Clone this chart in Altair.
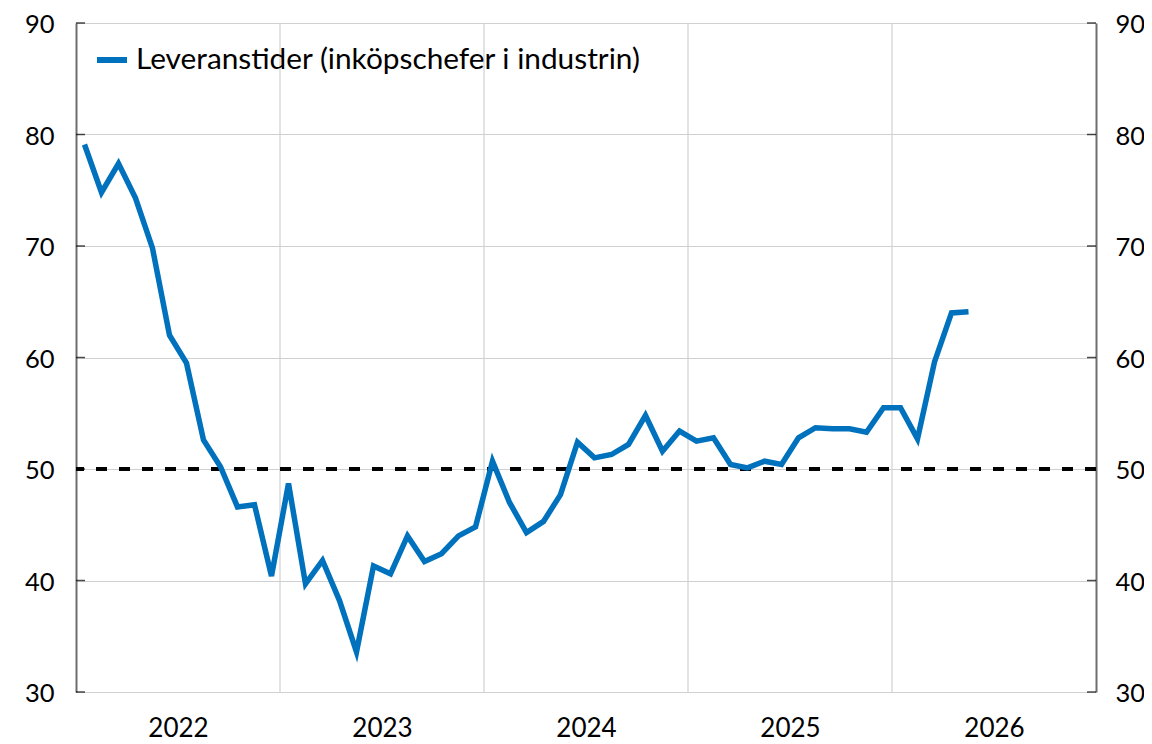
import altair as alt
import pandas as pd

series_name = "Leveranstider (inköpschefer i industrin)"
start_year = 2022
values = [79.1, 74.8, 77.4, 74.3, 69.8, 62.0, 59.5, 52.6, 50.2, 46.6, 46.8, 40.4,
          48.7, 39.7, 41.8, 38.2, 33.6, 41.3, 40.6, 44.0, 41.7, 42.4, 44.0, 44.8,
          50.7, 47.0, 44.3, 45.3, 47.7, 52.4, 51.0, 51.3, 52.2, 54.8, 51.6, 53.4,
          52.5, 52.8, 50.4, 50.1, 50.7, 50.4, 52.8, 53.7, 53.6, 53.6, 53.3, 55.5,
          55.5, 52.7, 59.6, 64.0, 64.1]
year_labels = [2022, 2023, 2024, 2025, 2026]
y_ticks = [30, 40, 50, 60, 70, 80, 90]
threshold = 50

df = pd.DataFrame({
    "m": [i + 0.5 for i in range(len(values))],
    "v": values,
    "s": [series_name] * len(values),
})
bounds = pd.DataFrame({"b": [12 * (y - start_year) for y in year_labels[1:]]})
ticks_df = pd.DataFrame({"t": y_ticks})

FONT = "Lato"
W, H = 1020, 669
xscale = alt.Scale(domain=[0, 12 * len(year_labels)], nice=False, zero=False)
yscale = alt.Scale(domain=[30, 90], nice=False, zero=False)

xaxis = alt.Axis(values=[12 * i + 6 for i in range(len(year_labels))],
                 labelExpr=f"{start_year} + floor(datum.value / 12)",
                 ticks=False, grid=False, domain=False, title=None,
                 labelFontSize=26, labelFont=FONT, labelColor="black",
                 labelBaseline="alphabetic", labelPadding=44)
yaxis_left = alt.Axis(values=y_ticks, orient="left", ticks=False, grid=True,
                      gridColor="#d0d0d0", gridWidth=1.2, domainColor="#6e6e6e",
                      domainWidth=2, title=None, labelFontSize=25.5, labelFont=FONT,
                      labelColor="black", labelPadding=22,
                      labelBaseline="alphabetic", labelOffset=9.5)
yaxis_right = alt.Axis(values=y_ticks, orient="right", ticks=False, grid=False,
                       domainColor="#6e6e6e", domainWidth=2, title=None,
                       labelFontSize=25.5, labelFont=FONT, labelColor="black",
                       labelPadding=19, labelBaseline="alphabetic", labelOffset=9.5)

vgrid = alt.Chart(bounds).mark_rule(color="#d0d0d0", strokeWidth=1.2).encode(
    x=alt.X("b:Q", scale=xscale, axis=xaxis)
)
dash = alt.Chart(ticks_df).mark_rule(color="black", strokeWidth=4, strokeDash=[11, 12]).encode(
    y=alt.datum(threshold)
)
line = alt.Chart(df).mark_line(strokeWidth=5.5, strokeJoin="miter").encode(
    x=alt.X("m:Q", scale=xscale, axis=xaxis),
    y=alt.Y("v:Q", scale=yscale, axis=yaxis_left),
    color=alt.Color("s:N", scale=alt.Scale(domain=[series_name], range=["#0071bc"]),
                    legend=alt.Legend(orient="none", legendX=18, legendY=19, title=None,
                                      symbolType="stroke", symbolSize=900,
                                      symbolStrokeWidth=6, labelFontSize=29.8,
                                      labelFont=FONT, labelColor="black",
                                      labelLimit=0, labelOffset=6)),
)
lticks = alt.Chart(ticks_df).mark_tick(color="black", thickness=1.5, size=9).encode(
    x=alt.value(4.5),
    y=alt.Y("t:Q", scale=yscale, axis=yaxis_left),
)
inner = alt.layer(vgrid, dash, line, lticks)

rticks = alt.Chart(ticks_df).mark_tick(color="black", thickness=1.5, size=9).encode(
    x=alt.value(W - 4.5),
    y=alt.Y("t:Q", scale=yscale, axis=yaxis_right),
)

chart = alt.layer(inner, rticks).resolve_scale(y="independent").properties(
    width=W, height=H,
    autosize=alt.AutoSizeParams(type="none"),
    padding={"left": 68, "top": 15, "right": 48, "bottom": 52},
).configure_view(stroke=None).configure(background="white")

chart.save("out.html", embed_options={"renderer": "svg", "actions": False})
